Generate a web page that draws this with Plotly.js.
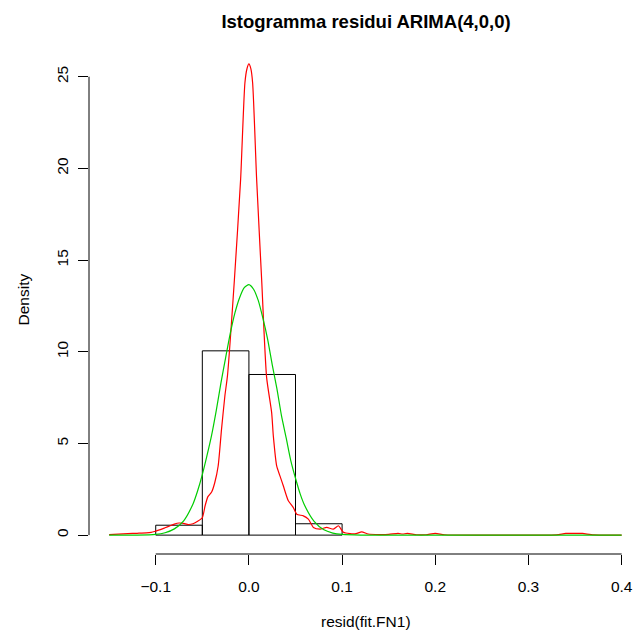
<!DOCTYPE html>
<html>
<head>
<meta charset="utf-8">
<script src="https://cdn.plot.ly/plotly-3.0.1.min.js"></script>
<style>html,body{margin:0;padding:0;background:#fff;overflow:hidden}</style>
</head>
<body>
<div id="chart" style="width:633px;height:632px"></div>
<script>
// Histogram (density scale), bin edges and bar heights
const binEdges = [-0.1, -0.05, 0, 0.05, 0.1];
const binDensity = [0.54, 10.05, 8.76, 0.62];

// Kernel density estimate of residuals (red)
const kdeX = [-0.15, -0.14, -0.13, -0.12, -0.11, -0.105, -0.1, -0.095, -0.09, -0.085, -0.08, -0.075, -0.07, -0.065, -0.06, -0.055, -0.05, -0.047, -0.044, -0.04, -0.0366, -0.033, -0.0294, -0.0258, -0.023, -0.0156, -0.0089, -0.0043, -0.002, 0, 0.002, 0.004, 0.0083, 0.0137, 0.019, 0.0244, 0.0262, 0.0298, 0.0333, 0.0369, 0.0423, 0.0477, 0.0513, 0.0584, 0.0638, 0.0692, 0.0763, 0.0835, 0.0907, 0.096, 0.1014, 0.1086, 0.115, 0.121, 0.128, 0.14, 0.15, 0.16, 0.165, 0.17, 0.18, 0.19, 0.2, 0.21, 0.25, 0.3, 0.33, 0.34, 0.35, 0.358, 0.37, 0.4];
const kdeY = [0.03, 0.05, 0.08, 0.1, 0.12, 0.15, 0.22, 0.3, 0.4, 0.5, 0.6, 0.66, 0.64, 0.58, 0.62, 0.75, 0.95, 1.6, 2.1, 2.35, 2.87, 3.77, 5.77, 7.59, 8.7, 13.9, 19.4, 24.66, 25.45, 25.7, 25.45, 24.66, 19.4, 13.9, 8.6, 6.68, 5.41, 3.77, 3.23, 2.69, 1.87, 1.5, 1.14, 1.05, 0.87, 0.42, 0.33, 0.42, 0.33, 0.51, 0.15, 0.08, 0.08, 0.18, 0.06, 0.03, 0.04, 0.09, 0.06, 0.09, 0.02, 0.02, 0.09, 0.02, 0.0, 0.0, 0.01, 0.09, 0.1, 0.09, 0.01, 0.0];

// Fitted normal density (green)
const normX = [-0.15, -0.12, -0.1, -0.09, -0.08, -0.07, -0.06, -0.055, -0.05, -0.045, -0.04, -0.035, -0.03, -0.025, -0.02, -0.015, -0.01, -0.005, 0, 0.005, 0.01, 0.015, 0.02, 0.025, 0.03, 0.035, 0.04, 0.045, 0.05, 0.055, 0.06, 0.07, 0.08, 0.09, 0.1, 0.12, 0.15, 0.2, 0.3, 0.4];
const normY = [0.0, 0.002, 0.04, 0.13, 0.34, 0.78, 1.7, 2.42, 3.3, 4.33, 5.45, 6.8, 8.3, 9.67, 11.0, 12.12, 12.95, 13.5, 13.66, 13.41, 12.8, 11.83, 10.7, 9.3, 8.0, 6.5, 5.3, 4.05, 3.1, 2.25, 1.6, 0.75, 0.3, 0.11, 0.035, 0.003, 0.0, 0.0, 0.0, 0.0];

// Axis ticks and labels
const xTicks = [-0.1, 0, 0.1, 0.2, 0.3, 0.4];
const xTickText = ['\u22120.1', '0.0', '0.1', '0.2', '0.3', '0.4'];
const yTicks = [0, 5, 10, 15, 20, 25];
const yTickText = ['0', '5', '10', '15', '20', '25'];

const titleText = 'Istogramma residui ARIMA(4,0,0)';
const xTitle = 'resid(fit.FN1)';
const yTitle = 'Density';

const barX = [], barW = [];
for (let i = 0; i < binDensity.length; i++) {
  barX.push((binEdges[i] + binEdges[i + 1]) / 2);
  barW.push(binEdges[i + 1] - binEdges[i]);
}

const font = 'Liberation Sans, Arial, Helvetica, sans-serif';

const traces = [
  {type: 'bar', x: barX, y: barDensityOr(binDensity), width: barW,
   marker: {color: 'rgba(0,0,0,0)', line: {color: '#000', width: 1}},
   hoverinfo: 'skip', showlegend: false},
  {type: 'scatter', mode: 'lines', x: kdeX, y: kdeY,
   line: {color: '#FF0000', width: 1.2, shape: 'spline', smoothing: 0.6}, showlegend: false},
  {type: 'scatter', mode: 'lines', x: normX, y: normY,
   line: {color: '#00CD00', width: 1.2, shape: 'spline', smoothing: 0.6}, showlegend: false}
];
function barDensityOr(a) { return a; }

const layout = {
  width: 633, height: 632,
  margin: {l: 89, r: 1, t: 45, b: 78},
  paper_bgcolor: '#fff', plot_bgcolor: '#fff',
  font: {family: font, size: 15.5, color: '#000'},
  title: {text: '<b>' + titleText + '</b>', font: {family: font, size: 18.5, color: '#000'},
          xref: 'container', yref: 'container', x: 366 / 633, xanchor: 'center',
          y: 1 - 22 / 632, yanchor: 'middle'},
  xaxis: {range: [-0.1716, 0.4111], tickvals: xTicks, ticktext: xTickText,
          ticks: 'outside', ticklen: 10, tickwidth: 1, tickcolor: '#000',
          showgrid: false, zeroline: false, showline: false, automargin: false,
          ticklabelstandoff: 8, tickfont: {family: font, size: 15.5, color: '#000'}},
  yaxis: {range: [-1.03, 26.73], tickvals: yTicks, ticktext: yTickText, tickangle: -90,
          ticks: 'outside', ticklen: 10, tickwidth: 1, tickcolor: '#000',
          showgrid: false, zeroline: false, showline: false, automargin: false,
          ticklabelstandoff: 4,
          title: {text: yTitle, font: {family: font, size: 15.5, color: '#000'}, standoff: 0},
          tickfont: {family: font, size: 15.5, color: '#000'}},
  shapes: [
    {type: 'line', xref: 'x', yref: 'paper', x0: xTicks[0], x1: xTicks[xTicks.length - 1], y0: 0, y1: 0,
     line: {color: '#000', width: 1}},
    {type: 'line', xref: 'paper', yref: 'y', x0: 0, x1: 0, y0: yTicks[0], y1: yTicks[yTicks.length - 1],
     line: {color: '#000', width: 1}}
  ],
  annotations: [
    {text: xTitle, xref: 'paper', yref: 'paper', x: (365.5 - 89) / 543, y: -(621.5 - 554) / 509,
     xanchor: 'center', yanchor: 'middle', showarrow: false,
     font: {family: font, size: 15.5, color: '#000'}},
    {text: yTitle, xref: 'paper', yref: 'paper', x: -(89 - 23) / 543, y: 0.5, textangle: -90,
     xanchor: 'center', yanchor: 'middle', showarrow: false,
     font: {family: font, size: 15.5, color: '#000'}}
  ]
};
layout.yaxis.title = {text: ''};
Plotly.newPlot('chart', traces, layout, {displayModeBar: false, staticPlot: true});
</script>
</body>
</html>
